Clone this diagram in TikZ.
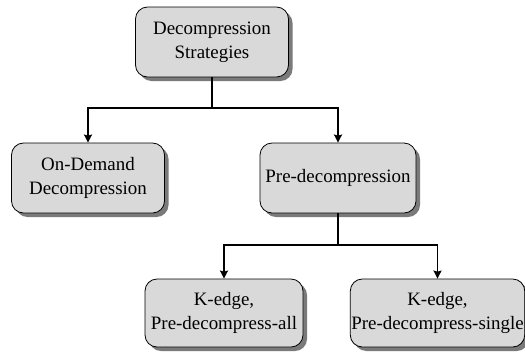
\documentclass[tikz,border=0pt]{standalone}
\usepackage{fontspec}
\setmainfont{Liberation Serif}
\usetikzlibrary{shadows,arrows.meta}
\definecolor{boxfill}{HTML}{D9D9D9}
\definecolor{boxshade}{HTML}{7A7A7A}
\tikzset{
  stratbox/.style={draw=black, line width=0.8bp, fill=boxfill, rounded corners=12bp,
    align=center, inner sep=1bp, font=\fontsize{19}{24}\selectfont,
    drop shadow={shadow xshift=4bp, shadow yshift=-4bp, fill=boxshade, opacity=1}},
  link/.style={line width=1.5bp, draw=black},
  linkarrow/.style={link, -{Stealth[length=8bp,width=8bp,inset=1bp]}}
}
\begin{document}
\begin{tikzpicture}[x=1bp,y=-1bp]
  \useasboundingbox (0,0) rectangle (525,355);
  % strategy boxes
  \node[stratbox, minimum width=153bp, minimum height=70bp] (top) at (212,42) {Decompression\\Strategies};
  \node[stratbox, minimum width=153bp, minimum height=70bp] (od) at (88,178) {On-Demand\\Decompression};
  \node[stratbox, minimum width=156bp, minimum height=70bp] (pd) at (338,178) {Pre-decompression};
  \node[stratbox, minimum width=158bp, minimum height=68bp] (ka) at (224,313) {K-edge,\\Pre-decompress-all};
  \node[stratbox, minimum width=172bp, minimum height=68bp] (ks) at (437.5,313) {K-edge,\\Pre-decompress-single};
  % tree connectors
  \coordinate (j1) at (212,108);
  \coordinate (j2) at (338,245);
  \draw[link] (top.south) -- (j1);
  \draw[linkarrow] (j1) -| (od.north);
  \draw[linkarrow] (j1) -| (pd.north);
  \draw[link] (pd.south) -- (j2);
  \draw[linkarrow] (j2) -| (ka.north);
  \draw[linkarrow] (j2) -| (ks.north);
\end{tikzpicture}
\end{document}
